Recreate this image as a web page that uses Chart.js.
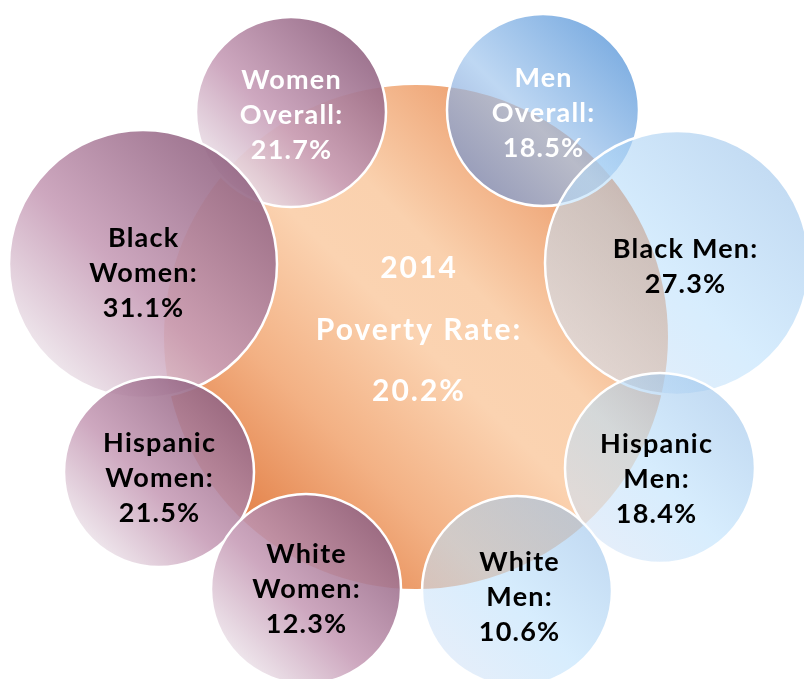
<!DOCTYPE html>
<html>
<head>
<meta charset="utf-8">
<script src="https://cdn.jsdelivr.net/npm/chart.js@4/dist/chart.umd.min.js"></script>
<style>
  html, body { margin: 0; padding: 0; background: #ffffff; }
  #wrap { width: 804px; height: 679px; }
</style>
</head>
<body>
<div id="wrap"><canvas id="c" width="804" height="679"></canvas></div>
<script>
// ---- data ----
const overallYear = '2014';
const overallLabel = 'Poverty Rate:';
const overallRate = 20.2;

const groups = ['Women Overall', 'Men Overall', 'Black Women', 'Black Men',
                'Hispanic Women', 'Hispanic Men', 'White Women', 'White Men'];
const groupLines = [['Women', 'Overall:'], ['Men', 'Overall:'], ['Black', 'Women:'], ['Black Men:'],
                    ['Hispanic', 'Women:'], ['Hispanic', 'Men:'], ['White', 'Women:'], ['White', 'Men:']];
const rates = [21.7, 18.5, 31.1, 27.3, 21.5, 18.4, 12.3, 10.6];
const sex = ['F', 'M', 'F', 'M', 'F', 'M', 'F', 'M'];

// ---- layout (bubble placement in a 804 x 679 plotting space) ----
const layoutX = [291, 543, 143, 677, 159, 660, 306, 517];
const layoutY = [112, 110, 264, 263, 472, 468, 589, 591];
const layoutR = [95, 96, 134, 132, 95, 95, 95, 95];
const textDY = [3, 3, 9, 4, 6, 11, 0, 6];
const textDX = [0, 0, 0, 8, 0, -4, 0, 2];
const centerPos = {x: 416, y: 337, r: 252};

// ---- styles ----
const FONT = "Lato, 'Open Sans', sans-serif";
const pinkStops = [[0, 'rgba(236,226,233,0.9)'], [0.42, 'rgba(200,158,184,0.9)'], [1, 'rgba(148,102,132,0.9)']];
const styleOf = (i) => {
  if (i === 0) return {stops: pinkStops, text: '#ffffff'};
  if (i === 1) return {stops: [[0, 'rgba(120,150,205,0.72)'], [0.42, 'rgba(165,200,238,0.72)'], [1, 'rgba(80,145,215,0.72)']], text: '#ffffff'};
  if (sex[i] === 'F') return {stops: pinkStops, text: '#000000'};
  return {stops: [[0, 'rgba(206,224,246,0.55)'], [0.45, 'rgba(182,222,252,0.55)'], [1, 'rgba(146,190,233,0.55)']], text: '#000000'};
};
const centerStops = [[0, '#e3824a'], [0.25, '#f3b184'], [0.5, '#fbd3b1'], [0.65, '#fad1ae'], [1, '#ea9562']];

function diagGradient(ctx, cx, cy, r, stops) {
  const k = r * 0.7071;
  const g = ctx.createLinearGradient(cx - k, cy + k, cx + k, cy - k);
  stops.forEach(s => g.addColorStop(s[0], s[1]));
  return g;
}

function spacedText(ctx, text, x, y, spacing) {
  if ('letterSpacing' in ctx) {
    ctx.letterSpacing = spacing + 'px';
    ctx.fillText(text, x + spacing / 2, y);
    ctx.letterSpacing = '0px';
  } else {
    const w = ctx.measureText(text).width;
    const sx = (w + spacing * text.length) / w;
    ctx.save();
    ctx.translate(x, y);
    ctx.scale(sx, 1);
    ctx.fillText(text, 0, 0);
    ctx.restore();
  }
}

const gradientPlugin = {
  id: 'gradients',
  beforeDatasetsDraw(chart) {
    const ctx = chart.ctx;
    const c = chart.getDatasetMeta(0).data[0];
    if (c && isFinite(c.x)) c.options.backgroundColor = diagGradient(ctx, c.x, c.y, c.options.radius, centerStops);
    chart.getDatasetMeta(1).data.forEach((el, i) => {
      if (isFinite(el.x)) el.options.backgroundColor = diagGradient(ctx, el.x, el.y, el.options.radius, styleOf(i).stops);
    });
  }
};

const labelPlugin = {
  id: 'labels',
  afterDatasetsDraw(chart) {
    const ctx = chart.ctx;
    ctx.save();
    ctx.textAlign = 'center';
    ctx.textBaseline = 'middle';
    const c = chart.getDatasetMeta(0).data[0];
    ctx.fillStyle = '#ffffff';
    ctx.font = 'bold 30px ' + FONT;
    spacedText(ctx, overallYear, c.x + 2, c.y - 69, 2);
    spacedText(ctx, overallLabel, c.x + 2, c.y - 7, 2);
    spacedText(ctx, overallRate.toFixed(1) + '%', c.x + 2, c.y + 54, 2);
    const meta = chart.getDatasetMeta(1);
    ctx.font = 'bold 27px ' + FONT;
    meta.data.forEach((el, i) => {
      const lines = groupLines[i].concat([rates[i].toFixed(1) + '%']);
      const n = lines.length;
      ctx.fillStyle = styleOf(i).text;
      lines.forEach((ln, j) => {
        const y = el.y + textDY[i] + (j - (n - 1) / 2) * 35;
        spacedText(ctx, ln, el.x + textDX[i], y, 1.2);
      });
    });
    ctx.restore();
  }
};

new Chart(document.getElementById('c'), {
  type: 'bubble',
  data: {
    datasets: [
      {
        label: 'Overall',
        order: 2,
        data: [{x: centerPos.x, y: centerPos.y, r: centerPos.r}],
        borderWidth: 0,
        borderColor: 'rgba(0,0,0,0)',
        backgroundColor: '#f7c09a',
        clip: false
      },
      {
        label: 'Groups',
        order: 1,
        data: groups.map((g, i) => ({x: layoutX[i], y: layoutY[i], r: layoutR[i]})),
        borderWidth: 2.5,
        borderColor: '#ffffff',
        backgroundColor: '#cccccc',
        clip: false
      }
    ]
  },
  options: {
    responsive: false,
    animation: false,
    events: [],
    layout: {padding: 0, autoPadding: false},
    plugins: {legend: {display: false}, tooltip: {enabled: false}},
    scales: {
      x: {type: 'linear', min: 0, max: 804, display: false},
      y: {type: 'linear', min: 0, max: 679, reverse: true, display: false}
    }
  },
  plugins: [gradientPlugin, labelPlugin]
});
</script>
</body>
</html>
